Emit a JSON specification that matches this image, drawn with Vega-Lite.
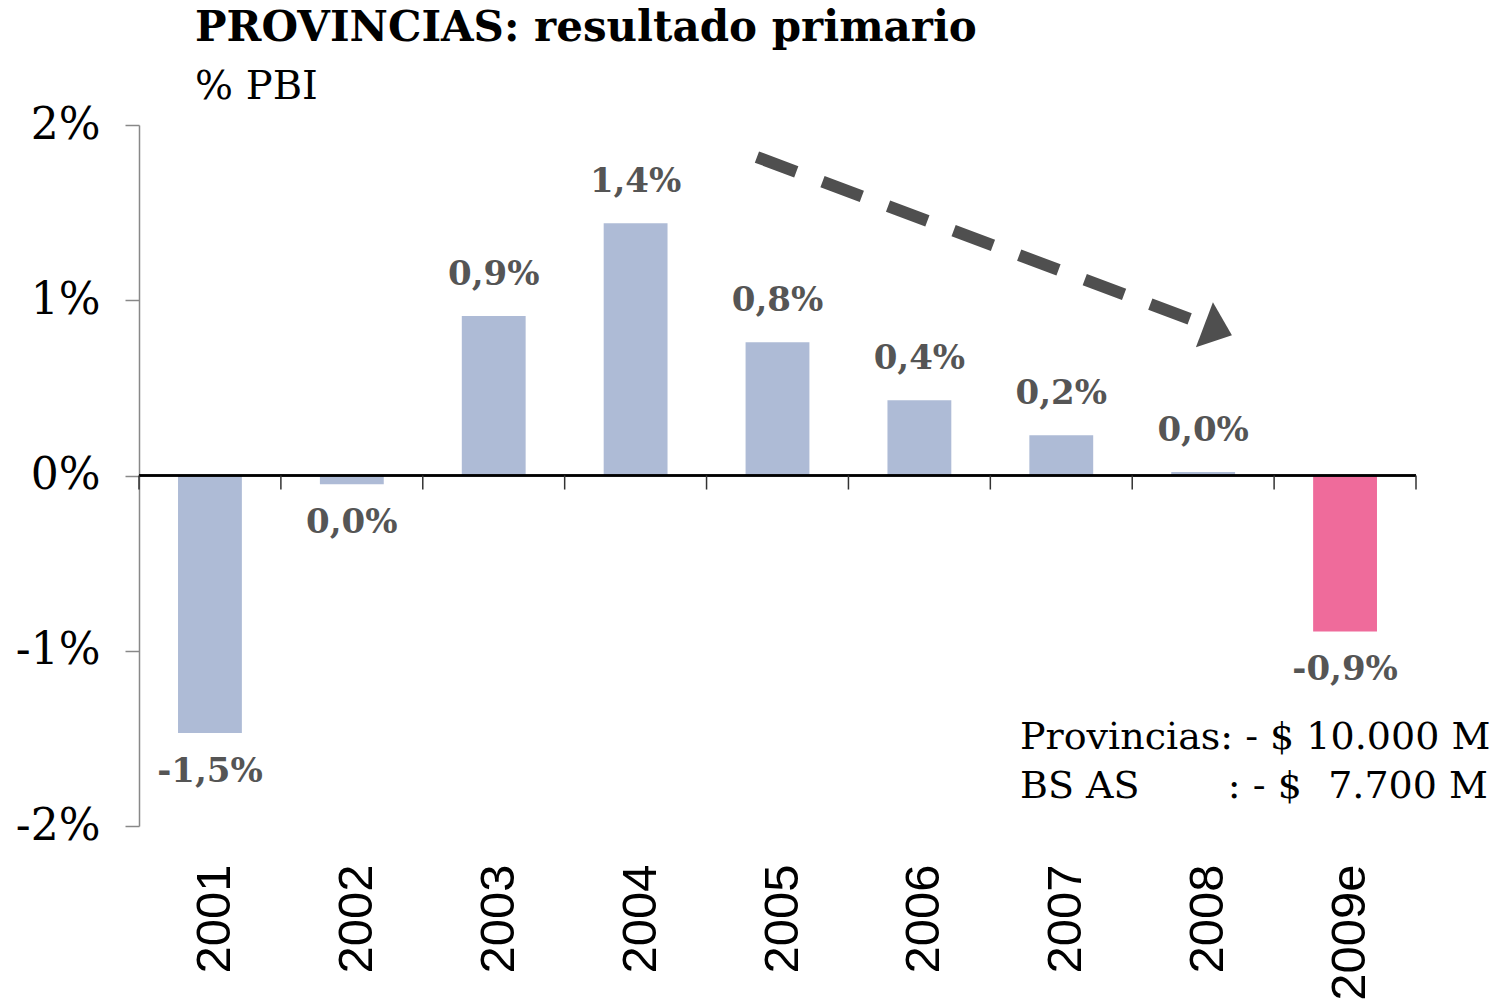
{
  "$schema": "https://vega.github.io/schema/vega-lite/v6.json",
  "width": 1277,
  "height": 701,
  "autosize": "none",
  "padding": {"left": 139, "top": 125, "right": 87, "bottom": 177},
  "background": "white",
  "config": {"view": {"stroke": null}},
  "title": {
    "text": "PROVINCIAS: resultado primario",
    "subtitle": "% PBI",
    "anchor": "start",
    "frame": "group",
    "dx": 56,
    "offset": -5,
    "font": "DejaVu Serif",
    "fontSize": 42,
    "fontWeight": "bold",
    "color": "#000000",
    "subtitleFont": "DejaVu Serif",
    "subtitleFontSize": 40,
    "subtitleColor": "#000000",
    "subtitlePadding": 17
  },
  "datasets": {
    "bars": [
      {"year": "2001", "value": -1.47, "label": "-1,5%"},
      {"year": "2002", "value": -0.05, "label": "0,0%"},
      {"year": "2003", "value": 0.91, "label": "0,9%"},
      {"year": "2004", "value": 1.44, "label": "1,4%"},
      {"year": "2005", "value": 0.76, "label": "0,8%"},
      {"year": "2006", "value": 0.43, "label": "0,4%"},
      {"year": "2007", "value": 0.23, "label": "0,2%"},
      {"year": "2008", "value": 0.02, "label": "0,0%"},
      {"year": "2009e", "value": -0.89, "label": "-0,9%"}
    ],
    "ticks": [
      {"xq": 0}, {"xq": 1}, {"xq": 2}, {"xq": 3}, {"xq": 4},
      {"xq": 5}, {"xq": 6}, {"xq": 7}, {"xq": 8}, {"xq": 9}
    ],
    "arrow": [
      {"xq": 4.355, "y": 1.817},
      {"xq": 7.505, "y": 0.863}
    ],
    "arrowhead": [
      {"xq": 7.604, "y": 0.829}
    ],
    "notesLeft": [
      {"xq": 6.209, "y": -1.497, "text": "Provincias: - $ 10.000 M"},
      {"xq": 6.209, "y": -1.777, "text": "BS AS"},
      {"xq": 7.674, "y": -1.777, "text": ": - $"}
    ],
    "notesRight": [
      {"xq": 9.507, "y": -1.777, "text": "7.700 M"}
    ]
  },
  "layer": [
    {
      "data": {"name": "bars"},
      "layer": [
        {
          "mark": {"type": "bar", "width": {"band": 0.45}},
          "encoding": {
            "x": {
              "field": "year",
              "type": "nominal",
              "scale": {"domain": ["2001","2002","2003","2004","2005","2006","2007","2008","2009e"], "paddingInner": 0, "paddingOuter": 0},
              "axis": {
                "orient": "bottom",
                "title": null,
                "domain": false,
                "ticks": false,
                "labelAngle": -90,
                "labelPadding": 38,
                "labelOffset": 5,
                "labelFont": "Liberation Sans",
                "labelFontSize": 49,
                "labelColor": "#000000"
              }
            },
            "y": {
              "field": "value",
              "type": "quantitative",
              "scale": {"domain": [-2, 2], "nice": false},
              "axis": {
                "title": null,
                "values": [-2, -1, 0, 1, 2],
                "labelExpr": "datum.value + '%'",
                "grid": false,
                "domainColor": "#888888",
                "domainWidth": 1.5,
                "tickColor": "#888888",
                "tickSize": 14,
                "tickWidth": 1.5,
                "labelPadding": 25,
                "labelFont": "DejaVu Serif",
                "labelFontSize": 44,
                "labelColor": "#000000"
              }
            },
            "color": {
              "condition": {"test": "datum.year === '2009e'", "value": "#EF6B9B"},
              "value": "#AEBBD6"
            }
          }
        },
        {
          "transform": [{"filter": "datum.value >= 0"}],
          "mark": {"type": "text", "baseline": "middle", "dy": -41, "font": "DejaVu Serif", "fontWeight": "bold", "fontSize": 34, "color": "#555555"},
          "encoding": {
            "x": {"field": "year", "type": "nominal"},
            "y": {"field": "value", "type": "quantitative", "scale": {"domain": [-2, 2], "nice": false}},
            "text": {"field": "label"}
          }
        },
        {
          "transform": [{"filter": "datum.value < 0"}],
          "mark": {"type": "text", "baseline": "middle", "dy": 39, "font": "DejaVu Serif", "fontWeight": "bold", "fontSize": 34, "color": "#555555"},
          "encoding": {
            "x": {"field": "year", "type": "nominal"},
            "y": {"field": "value", "type": "quantitative", "scale": {"domain": [-2, 2], "nice": false}},
            "text": {"field": "label"}
          }
        }
      ]
    },
    {
      "layer": [
        {
          "data": {"name": "bars"},
          "mark": {"type": "rule", "color": "#000000", "strokeWidth": 1.5},
          "encoding": {
            "y": {"datum": 0, "type": "quantitative", "scale": {"domain": [-2, 2], "nice": false}}
          }
        },
        {
          "data": {"name": "ticks"},
          "mark": {"type": "rule", "color": "#333333", "strokeWidth": 1.5},
          "encoding": {
            "x": {"field": "xq", "type": "quantitative", "scale": {"domain": [0, 9], "nice": false, "zero": false}, "axis": null},
            "y": {"datum": 0, "type": "quantitative", "scale": {"domain": [-2, 2], "nice": false}},
            "y2": {"datum": -0.08}
          }
        },
        {
          "data": {"name": "arrow"},
          "mark": {"type": "line", "strokeDash": [42, 28], "strokeWidth": 12, "color": "#4F4F4F", "strokeCap": "butt"},
          "encoding": {
            "x": {"field": "xq", "type": "quantitative", "scale": {"domain": [0, 9], "nice": false, "zero": false}, "axis": null},
            "y": {"field": "y", "type": "quantitative", "scale": {"domain": [-2, 2], "nice": false}}
          }
        },
        {
          "data": {"name": "arrowhead"},
          "mark": {"type": "point", "shape": "M0.583,0.208L-0.208,-1.167L-0.917,0.708Z", "filled": true, "opacity": 1, "size": 2304, "color": "#4F4F4F", "strokeWidth": 0},
          "encoding": {
            "x": {"field": "xq", "type": "quantitative", "scale": {"domain": [0, 9], "nice": false, "zero": false}, "axis": null},
            "y": {"field": "y", "type": "quantitative", "scale": {"domain": [-2, 2], "nice": false}}
          }
        },
        {
          "data": {"name": "notesLeft"},
          "mark": {"type": "text", "align": "left", "baseline": "middle", "font": "DejaVu Serif", "fontSize": 38, "color": "#000000"},
          "encoding": {
            "x": {"field": "xq", "type": "quantitative", "scale": {"domain": [0, 9], "nice": false, "zero": false}, "axis": null},
            "y": {"field": "y", "type": "quantitative", "scale": {"domain": [-2, 2], "nice": false}},
            "text": {"field": "text"}
          }
        },
        {
          "data": {"name": "notesRight"},
          "mark": {"type": "text", "align": "right", "baseline": "middle", "font": "DejaVu Serif", "fontSize": 38, "color": "#000000"},
          "encoding": {
            "x": {"field": "xq", "type": "quantitative", "scale": {"domain": [0, 9], "nice": false, "zero": false}, "axis": null},
            "y": {"field": "y", "type": "quantitative", "scale": {"domain": [-2, 2], "nice": false}},
            "text": {"field": "text"}
          }
        }
      ]
    }
  ],
  "resolve": {"scale": {"x": "independent"}, "axis": {"x": "independent"}}
}
